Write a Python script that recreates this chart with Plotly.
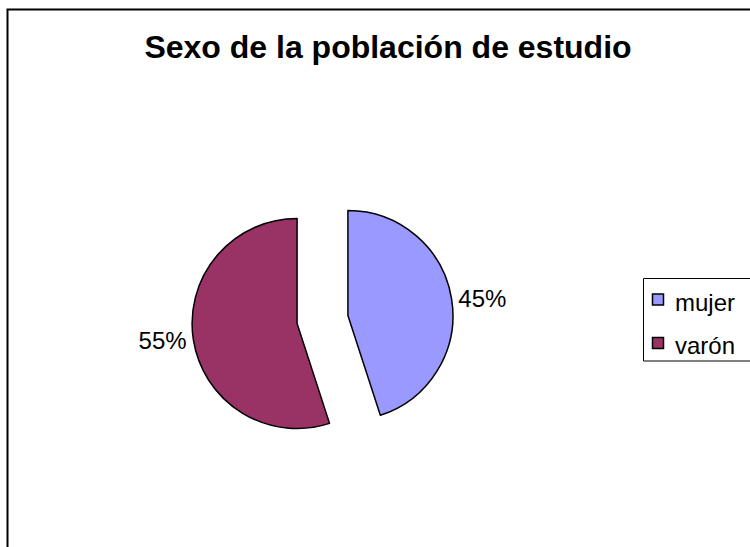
import plotly.graph_objects as go

# Survey population by sex
categories = ["mujer", "varón"]
shares = [45, 55]
slice_colors = ["#9999FF", "#993366"]

W, H = 750, 547
FONT = "Liberation Sans, Arial"

# pie box in pixels (center ~ (322.5, 319.5), radius ~105 with 0.245 pull)
pull = 0.245
box = 2 * 105 * (1 + pull)
cx, cy = 322.5, 319.5

fig = go.Figure(
    go.Pie(
        labels=categories,
        values=shares,
        sort=False,
        direction="clockwise",
        rotation=0,
        pull=[pull, pull],
        marker=dict(colors=slice_colors, line=dict(color="black", width=1.5)),
        texttemplate="%{percent:.0%}",
        textposition="outside",
        textfont=dict(family=FONT, size=24, color="black"),
        hoverinfo="label+percent",
        showlegend=False,
        domain=dict(
            x=[(cx - box / 2) / W, (cx + box / 2) / W],
            y=[1 - (cy + box / 2) / H, 1 - (cy - box / 2) / H],
        ),
    )
)


def px(x):
    return x / W


def py(y):
    return 1 - y / H


shapes = [
    # outer chart frame
    dict(type="rect", xref="paper", yref="paper",
         x0=px(7.5), x1=1.05, y0=-0.05, y1=py(9.5),
         line=dict(color="black", width=2), layer="below"),
    # legend frame
    dict(type="rect", xref="paper", yref="paper",
         x0=px(643.5), x1=1.05, y0=py(361), y1=py(278.5),
         fillcolor="white", line=dict(color="black", width=1), layer="below"),
]
annotations = []

# legend: colour key + label per category
row_y = [299.5, 343.0]
for name, color, ry in zip(categories, slice_colors, row_y):
    shapes.append(
        dict(type="rect", xref="paper", yref="paper",
             x0=px(652.5), x1=px(663.5), y0=py(ry + 5.5), y1=py(ry - 5.5),
             fillcolor=color, line=dict(color="black", width=1.5))
    )
    annotations.append(
        dict(text=name, xref="paper", yref="paper",
             x=px(673), y=py(ry + 2.5), xanchor="left", yanchor="middle",
             showarrow=False, font=dict(family=FONT, size=24, color="black"))
    )

fig.update_layout(
    width=W,
    height=H,
    margin=dict(l=0, r=0, t=0, b=0),
    paper_bgcolor="white",
    plot_bgcolor="white",
    font=dict(family=FONT, color="black"),
    title=dict(
        text="<b>Sexo de la población de estudio</b>",
        x=px(388),
        xanchor="center",
        y=py(47),
        yanchor="middle",
        font=dict(size=32, family=FONT, color="black"),
    ),
    shapes=shapes,
    annotations=annotations,
)

fig.write_html("out.html")
